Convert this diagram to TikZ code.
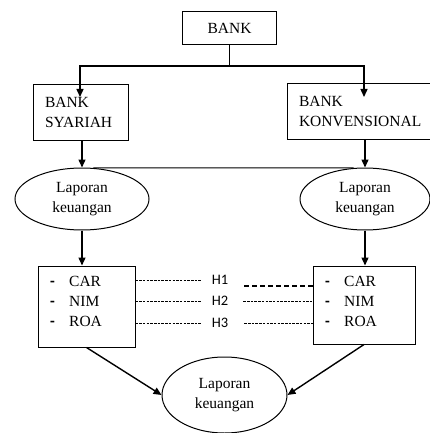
\documentclass[tikz,border=0pt]{standalone}
\usepackage{fontspec}
\setmainfont{Liberation Serif}
\newfontfamily\hfont{Carlito}
\usetikzlibrary{shapes.geometric,arrows.meta}

\newcommand{\butir}[1]{\makebox[19pt][l]{\hfont\bfseries -}#1}

\begin{document}
\begin{tikzpicture}[x=1pt,y=-1pt,
    font=\fontsize{15.5}{20}\selectfont,
    kotak/.style={draw,rectangle,line width=1pt},
    lap/.style={draw,ellipse,line width=1pt,minimum width=134pt,minimum height=62pt,align=center,inner sep=0pt},
    arr/.style={-{Triangle[length=8pt,width=7pt]},line width=1.4pt},
    hgaris/.style={line width=0.8pt,dash pattern=on 2.5pt off 1.2pt},
    htebal/.style={line width=1.5pt,dash pattern=on 5pt off 3pt}]
    \useasboundingbox (0,0) rectangle (430,433);

    % Draw the bank boxes
    \node[kotak,minimum width=94pt,minimum height=33pt] (bank) at (229.5,28.5) {BANK};
    \node[kotak,minimum width=95pt,minimum height=55pt,text width=71pt,inner xsep=12pt,align=left] (syar) at (80.5,112.5) {BANK\\SYARIAH};
    \node[kotak,minimum width=158pt,minimum height=55pt,text width=134pt,inner xsep=12pt,align=left] (konv) at (366,111.5) {BANK\\KONVENSIONAL};

    % Split from BANK
    \coordinate (split) at (229.5,66);
    \coordinate (tipS) at (80,97);
    \coordinate (tipK) at (364,97);
    \draw[line width=1pt] (bank.south) -- (split);
    \draw[arr] (split) -| (tipS);
    \draw[arr] (split) -| (tipK);

    % Draw the financial reports
    \node[lap] (lapS) at (82,199) {Laporan\\keuangan};
    \node[lap,minimum width=130pt] (lapK) at (365,199) {Laporan\\keuangan};
    \draw[arr] (lapS.north |- syar.south) -- (lapS.north);
    \draw[arr] (lapK.north |- konv.south) -- (lapK.north);
    \draw[line width=1pt] (lapS.70) -- (lapK.110);

    % Draw the ratio boxes
    \node[kotak,minimum width=97pt,minimum height=81pt] (indS) at (86.5,306.5) {};
    \node[kotak,minimum width=102pt,minimum height=78pt] (indK) at (364,305) {};
    \node[anchor=west,align=left,inner sep=0pt] (listS) at (50,301) {\butir{CAR}\\\butir{NIM}\\\butir{ROA}};
    \node[anchor=west,align=left,inner sep=0pt] (listK) at (325,301) {\butir{CAR}\\\butir{NIM}\\\butir{ROA}};
    \draw[arr] (lapS.south) -- (lapS.south |- indS.north);
    \draw[arr] (lapK.south) -- (lapK.south |- indK.north);

    % Hypotheses between the boxes
    \foreach \n/\y in {1/280,2/301,3/323} {
        \node[font=\hfont\fontsize{14.5}{17}\selectfont,inner xsep=11pt,inner ysep=2pt] (h\n) at (220,\y) {H\n};
        \draw[hgaris] (indS.east |- h\n.west) -- (h\n.west);
    }
    \coordinate (h1ujung) at (315,286);
    \draw[htebal] ([xshift=5pt]h1.east |- h1ujung) -- (h1ujung);
    \draw[hgaris] ([xshift=4pt]h2.east) -- (h2.east -| indK.west);
    \draw[hgaris] ([xshift=5pt]h3.east) -- (h3.east -| indK.west);

    % Bottom report
    \node[lap,minimum width=125pt,minimum height=76pt] (lapB) at (224.5,395) {Laporan\\keuangan};
    \draw[arr] (indS.south) -- (lapB.west);
    \draw[arr] (indK.south) -- (lapB.east);
\end{tikzpicture}
\end{document}
